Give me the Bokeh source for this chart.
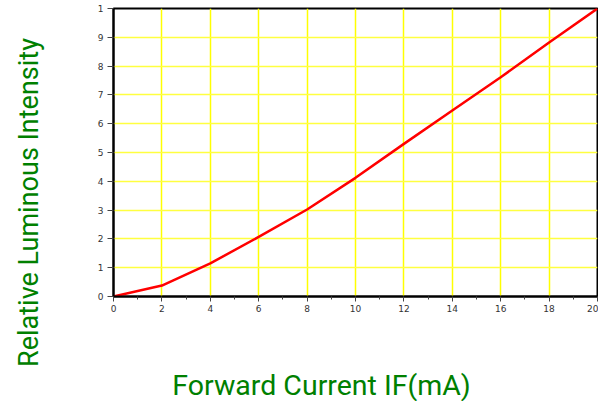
import math
from bokeh.plotting import figure
from bokeh.layouts import row, column
from bokeh.models import FixedTicker, Range1d, Label
from bokeh.embed import file_html
from bokeh.resources import INLINE

# Data
current_ma = [0, 2, 4, 6, 8, 10, 12, 14, 16, 18, 20]
intensity = [0, 0.38, 1.15, 2.07, 3.02, 4.12, 5.30, 6.46, 7.61, 8.82, 10.0]
x_ticks = [0, 2, 4, 6, 8, 10, 12, 14, 16, 18, 20]
y_ticks = [0, 1, 2, 3, 4, 5, 6, 7, 8, 9, 10]
y_tick_labels = {10: "1"}
x_title = "Forward Current IF(mA)"
y_title = "Relative Luminous Intensity"

GREEN = "#008000"

p = figure(width=545, height=343, output_backend="svg", toolbar_location=None,
           x_range=Range1d(0, 20), y_range=Range1d(0, 10),
           min_border_left=60, min_border_right=1, min_border_top=8, min_border_bottom=47)

p.background_fill_color = "white"
p.border_fill_color = "white"
p.outline_line_color = "black"
p.outline_line_width = 2

# grids
p.xgrid.ticker = FixedTicker(ticks=x_ticks)
p.ygrid.ticker = FixedTicker(ticks=y_ticks)
p.xgrid.grid_line_color = "#ffff00"
p.xgrid.grid_line_width = 1.5
p.ygrid.grid_line_color = "#ffff40"
p.ygrid.grid_line_width = 1.3

# axes
p.xaxis.ticker = FixedTicker(ticks=x_ticks, minor_ticks=list(range(1, 20, 2)))
p.yaxis.ticker = FixedTicker(ticks=y_ticks, minor_ticks=[])
p.yaxis.major_label_overrides = y_tick_labels
for ax in (p.xaxis[0], p.yaxis[0]):
    ax.axis_line_color = "black"
    ax.axis_line_width = 2
    ax.major_tick_line_color = "#444444"
    ax.minor_tick_line_color = "#444444"
    ax.major_tick_in = 0
    ax.minor_tick_in = 0
    ax.major_label_text_font = "DejaVu Sans"
    ax.major_label_text_font_size = "9px"
    ax.major_label_text_color = "#333333"
p.xaxis.major_tick_out = 5
p.xaxis.minor_tick_out = 3
p.yaxis.major_tick_out = 6
p.xaxis.major_label_standoff = 3
p.yaxis.major_label_standoff = 4

p.line(current_ma, intensity, line_color="#ff0000", line_width=2.5)


def text_panel(w, h):
    f = figure(width=w, height=h, output_backend="svg", toolbar_location=None,
               x_axis_type=None, y_axis_type=None, min_border=0,
               x_range=Range1d(0, 1), y_range=Range1d(0, 1))
    f.outline_line_color = None
    f.background_fill_color = "white"
    f.border_fill_color = "white"
    return f


yfig = text_panel(53, 401)
yfig.add_layout(Label(x=28, y=199, x_units="screen", y_units="screen", text=y_title,
                      angle=math.pi / 2, text_font="Roboto", text_font_size="27px",
                      text_color=GREEN, text_align="center", text_baseline="middle"))

xfig = text_panel(545, 58)
xfig.add_layout(Label(x=208, y=16, x_units="screen", y_units="screen", text=x_title,
                      text_font="Roboto", text_font_size="28.5px",
                      text_color=GREEN, text_align="center", text_baseline="alphabetic"))

layout = row(yfig, column(p, xfig, spacing=0), spacing=0)

open("out.html", "w").write(file_html(layout, INLINE))
